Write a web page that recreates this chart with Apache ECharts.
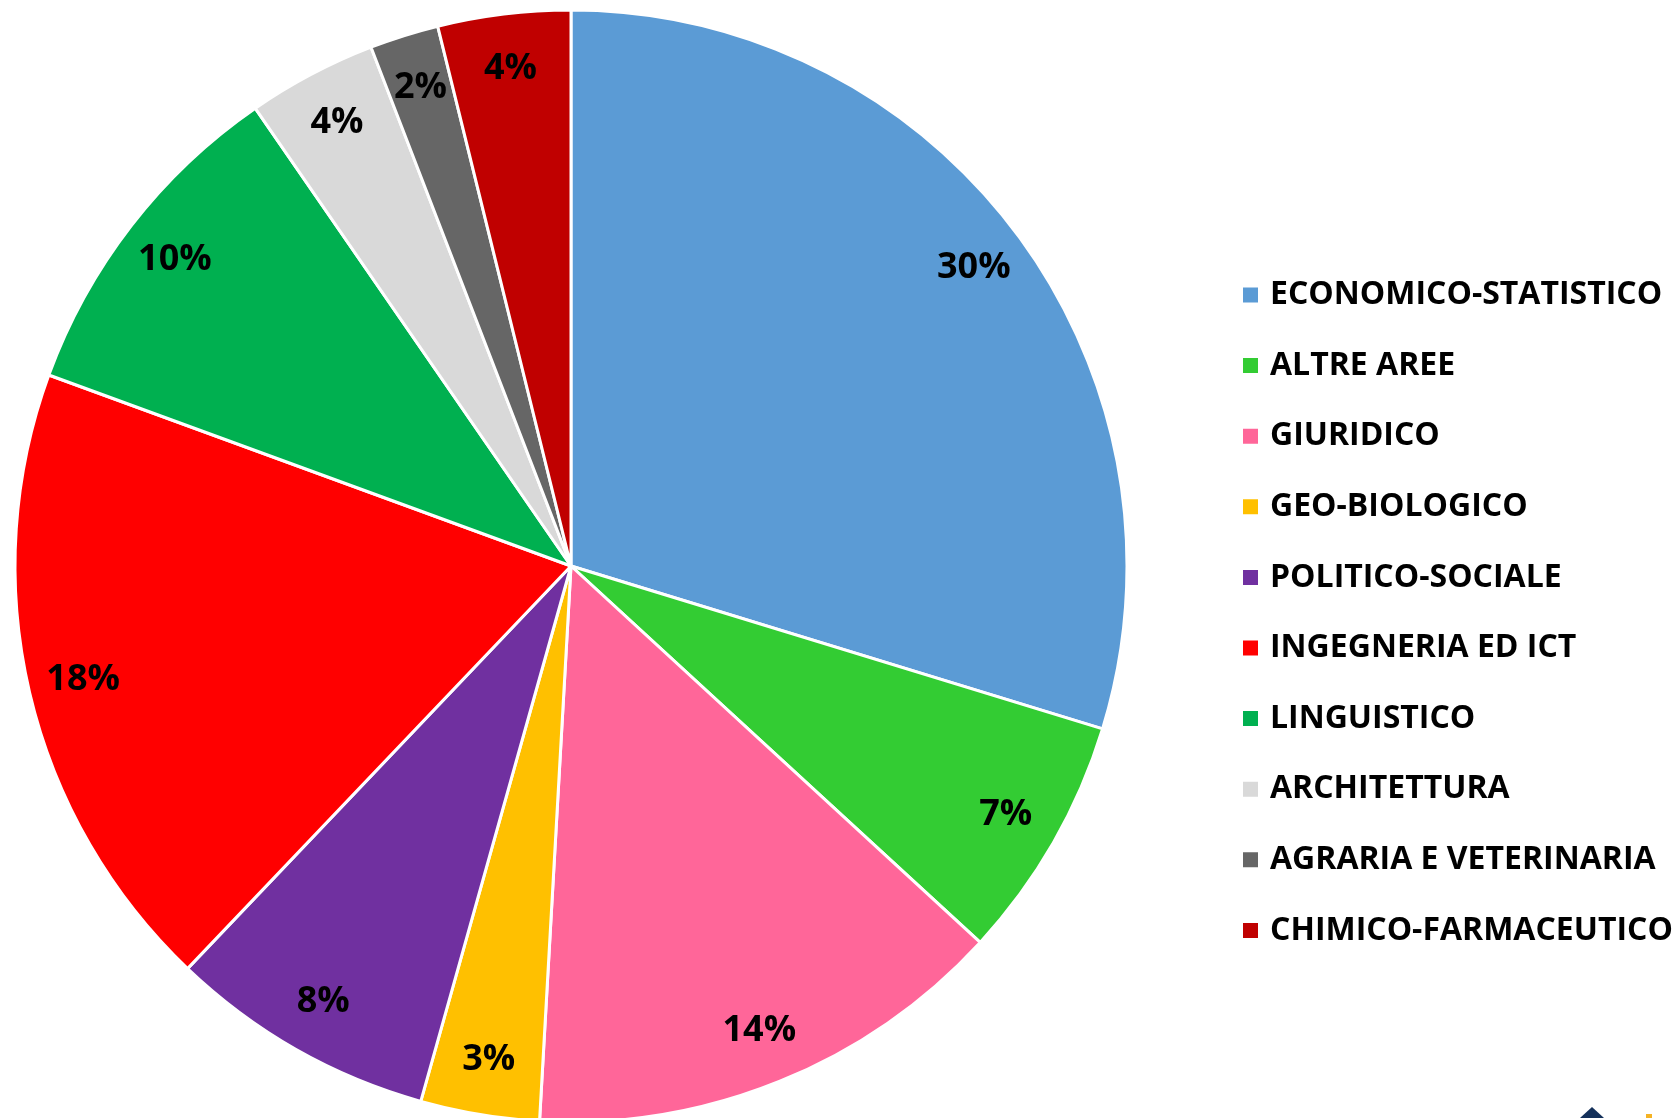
<!DOCTYPE html>
<html>
<head>
<meta charset="utf-8">
<title>Aree disciplinari</title>
<script src="https://cdn.jsdelivr.net/npm/echarts@6/dist/echarts.min.js"></script>
<style>
  html, body { margin: 0; padding: 0; background: #ffffff; }
  #chart { width: 1680px; height: 1118px; }
</style>
</head>
<body>
<div id="chart"></div>
<script>
// categories in drawing order (clockwise from 12 o'clock)
const categories = [
  'ECONOMICO-STATISTICO',
  'ALTRE AREE',
  'GIURIDICO',
  'GEO-BIOLOGICO',
  'POLITICO-SOCIALE',
  'INGEGNERIA ED ICT',
  'LINGUISTICO',
  'ARCHITETTURA',
  'AGRARIA E VETERINARIA',
  'CHIMICO-FARMACEUTICO'
]
// share of each area (%)
const shares = [29.7, 7.1, 14.05, 3.45, 7.75, 18.45, 9.8, 3.75, 2.0, 3.85]
const colors = ['#5b9bd5', '#33cc33', '#ff6699', '#ffc000', '#7030a0', '#ff0000', '#00b050', '#d9d9d9', '#666666', '#c00000']

const chart = echarts.init(document.getElementById('chart'))

const pieData = categories.map((name, i) => ({ name: name, value: shares[i] }))
const fontFamily = '"Open Sans", Lato, sans-serif'

const option = {
  backgroundColor: '#ffffff',
  animation: false,
  color: colors,
  legend: {
    orient: 'vertical',
    left: 1241,
    top: 278,
    padding: 0,
    icon: 'rect',
    itemWidth: 17,
    itemHeight: 17,
    itemGap: 36.6,
    data: categories,
    textStyle: {
      fontFamily: fontFamily,
      fontWeight: 'bold',
      fontSize: 32,
      lineHeight: 34,
      color: '#000000',
      padding: [0, 0, 0, 6]
    }
  },
  series: [
    {
      name: 'Aree',
      type: 'pie',
      center: [571, 566],
      radius: [0, 556],
      startAngle: 90,
      clockwise: true,
      label: { show: false },
      labelLine: { show: false },
      itemStyle: { borderColor: '#ffffff', borderWidth: 3 },
      emphasis: { disabled: true },
      data: pieData
    },
    {
      // transparent ring that only carries the percentage labels near the rim
      name: 'Etichette',
      type: 'pie',
      center: [571, 566],
      radius: [440, 556],
      startAngle: 90,
      clockwise: true,
      silent: true,
      itemStyle: { color: 'rgba(0,0,0,0)', borderWidth: 0 },
      emphasis: { disabled: true },
      labelLine: { show: false },
      label: {
        show: true,
        position: 'inside',
        formatter: p => Math.round(p.percent) + '%',
        fontFamily: fontFamily,
        fontWeight: 'bold',
        fontSize: 36,
        color: '#000000'
      },
      data: pieData
    }
  ],
  graphic: [
    { type: 'polygon', shape: { points: [[1580, 1118], [1592, 1107], [1604, 1118]] }, style: { fill: '#14305a' } },
    { type: 'rect', shape: { x: 1646, y: 1114, width: 6, height: 4 }, style: { fill: '#f5b324' } }
  ]
}

chart.setOption(option)
window.addEventListener('resize', () => chart.resize())
</script>
</body>
</html>
